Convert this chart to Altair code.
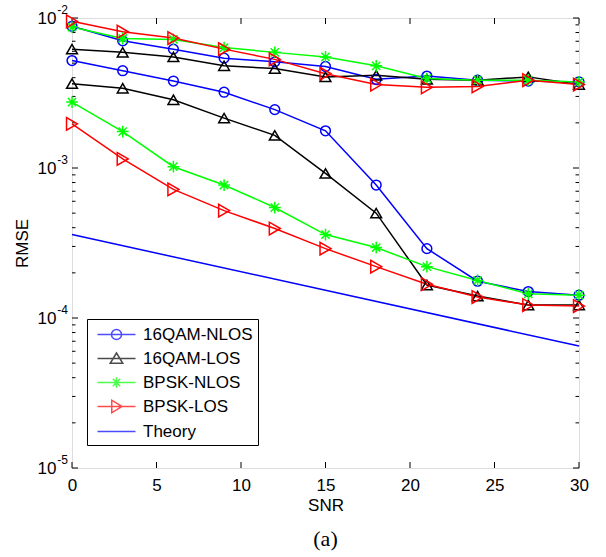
import altair as alt
import pandas as pd

# ---------------- data ----------------
snr = [0, 3, 6, 9, 12, 15, 18, 21, 24, 27, 30]
series_names = ["16QAM-NLOS", "16QAM-LOS", "BPSK-NLOS", "BPSK-LOS", "Theory"]
series_colors = ["#0000ff", "#000000", "#00ff00", "#ff0000", "#0000ff"]

qam_nlos_upper = [8.8e-3, 7.05e-3, 6.2e-3, 5.4e-3, 5.1e-3, 4.75e-3, 3.9e-3, 4.1e-3, 3.85e-3, 3.8e-3, 3.75e-3]
qam_nlos_lower = [5.2e-3, 4.45e-3, 3.8e-3, 3.2e-3, 2.45e-3, 1.77e-3, 7.7e-4, 2.9e-4, 1.76e-4, 1.5e-4, 1.42e-4]
qam_los_upper = [6.2e-3, 5.9e-3, 5.5e-3, 4.8e-3, 4.6e-3, 4.05e-3, 4.15e-3, 3.9e-3, 3.85e-3, 4.05e-3, 3.6e-3]
qam_los_lower = [3.65e-3, 3.4e-3, 2.85e-3, 2.15e-3, 1.65e-3, 9.2e-4, 5.0e-4, 1.66e-4, 1.4e-4, 1.22e-4, 1.22e-4]
bpsk_nlos_upper = [8.7e-3, 7.3e-3, 7.2e-3, 6.35e-3, 5.9e-3, 5.5e-3, 4.8e-3, 3.95e-3, 3.85e-3, 3.85e-3, 3.75e-3]
bpsk_nlos_lower = [2.75e-3, 1.75e-3, 1.02e-3, 7.7e-4, 5.45e-4, 3.6e-4, 2.95e-4, 2.2e-4, 1.78e-4, 1.45e-4, 1.42e-4]
bpsk_los_upper = [9.5e-3, 8.1e-3, 7.35e-3, 6.2e-3, 5.3e-3, 4.25e-3, 3.6e-3, 3.45e-3, 3.5e-3, 3.85e-3, 3.6e-3]
bpsk_los_lower = [1.97e-3, 1.15e-3, 7.2e-4, 5.2e-4, 3.95e-4, 2.9e-4, 2.2e-4, 1.68e-4, 1.38e-4, 1.22e-4, 1.2e-4]
theory_snr = [0, 30]
theory_rmse = [3.6e-4, 6.5e-5]

x_ticks = [0, 5, 10, 15, 20, 25, 30]
y_major = [1e-5, 1e-4, 1e-3, 1e-2]
y_exponents = ["-5", "-4", "-3", "-2"]
y_minor = [m * d for d in [1e-5, 1e-4, 1e-3] for m in range(2, 10)]

# ---------------- table ----------------
rows = []
curves = [
    ("16QAM-NLOS", "u", qam_nlos_upper), ("16QAM-NLOS", "l", qam_nlos_lower),
    ("16QAM-LOS", "u", qam_los_upper), ("16QAM-LOS", "l", qam_los_lower),
    ("BPSK-NLOS", "u", bpsk_nlos_upper), ("BPSK-NLOS", "l", bpsk_nlos_lower),
    ("BPSK-LOS", "u", bpsk_los_upper), ("BPSK-LOS", "l", bpsk_los_lower),
]
order = 0
for name, part, vals in curves:
    for s, v in zip(snr, vals):
        rows.append({"snr": s, "rmse": v, "series": name, "curve": name + part, "o": order})
    order += 1
for s, v in zip(theory_snr, theory_rmse):
    rows.append({"snr": s, "rmse": v, "series": "Theory", "curve": "Theory", "o": order})
df = pd.DataFrame(rows)
markers_df = df[df["series"] != "Theory"]

W, H = 507, 450
FONT = "Liberation Sans"

xscale = alt.Scale(domain=[0, 30], nice=False, zero=False)
yscale = alt.Scale(type="log", domain=[1e-5, 1e-2], nice=False)

xaxis = alt.Axis(values=x_ticks, ticks=False, domain=False, grid=False, title="SNR",
                 labelFont=FONT, labelFontSize=17, labelColor="black", labelPadding=9,
                 titleFont=FONT, titleFontSize=17, titleFontWeight="normal", titleColor="black",
                 titlePadding=4, labelFlush=False)
yaxis = alt.Axis(values=y_major, ticks=False, domain=False, grid=False, title="RMSE",
                 labelExpr="'10'",
                 labelFont=FONT, labelFontSize=17, labelColor="black", labelPadding=16,
                 titleFont=FONT, titleFontSize=17, titleFontWeight="normal", titleColor="black",
                 titlePadding=6, labelFlush=False)

X = alt.X("snr:Q", scale=xscale, axis=xaxis)
Y = alt.Y("rmse:Q", scale=yscale, axis=yaxis)

color_scale = alt.Scale(domain=series_names, range=series_colors)

asterisk = "M-1,0L1,0M0,-1L0,1M-0.7,-0.7L0.7,0.7M-0.7,0.7L0.7,-0.7"
point_shapes = ["circle", "triangle-up", asterisk, "triangle-right"]
point_sizes = [95, 160, 110, 160]

lines = alt.Chart(df).mark_line(strokeWidth=1.5).encode(
    x=X, y=Y,
    color=alt.Color("series:N", scale=color_scale, legend=None),
    detail="curve:N",
    order="o:Q",
)

points = alt.Chart(markers_df).mark_point(filled=False, strokeWidth=1.5, opacity=1).encode(
    x=X, y=Y,
    color=alt.Color("series:N", scale=color_scale, legend=None),
    shape=alt.Shape("series:N", scale=alt.Scale(domain=series_names[:4], range=point_shapes), legend=None),
    size=alt.Size("series:N", scale=alt.Scale(domain=series_names[:4], range=point_sizes), legend=None),
)

# legend symbols: line + marker
leg_shapes = [
    "M-2,0L2,0M0.53,0A0.53,0.53,0,1,1,-0.53,0A0.53,0.53,0,1,1,0.53,0",
    "M-2,0L2,0M0,-0.58L-0.66,0.5L0.66,0.5Z",
    "M-2,0L2,0M-0.55,0L0.55,0M0,-0.55L0,0.55M-0.39,-0.39L0.39,0.39M-0.39,0.39L0.39,-0.39",
    "M-2,0L2,0M0.58,0L-0.5,-0.66L-0.5,0.66Z",
    "M-2,0L2,0",
]
leg_props = dict(orient="none", legendX=15, legendY=301, title=None,
                 strokeColor="black", fillColor="white", padding=5, cornerRadius=0,
                 labelFont=FONT, labelFontSize=17, labelColor="black",
                 symbolSize=361, symbolStrokeWidth=1.5, rowPadding=5,
                 symbolOffset=14, labelOffset=16)
legend_layer = alt.Chart(df).mark_point(filled=False, strokeWidth=1.5).encode(
    x=X, y=Y,
    color=alt.Color("series:N", scale=alt.Scale(domain=series_names, range=series_colors),
                    legend=alt.Legend(**leg_props)),
    shape=alt.Shape("series:N", scale=alt.Scale(domain=series_names, range=leg_shapes),
                    legend=alt.Legend(**leg_props)),
).transform_filter("false")

# inward ticks (MATLAB style)
xt = pd.DataFrame({"snr": x_ticks})
ymaj = pd.DataFrame({"rmse": y_major, "exp": y_exponents})
ymin = pd.DataFrame({"rmse": y_minor})

tick_bottom = alt.Chart(xt).mark_rule(color="black", strokeWidth=1).encode(x=X, y=alt.value(H), y2=alt.value(H - 6))
tick_top = alt.Chart(xt).mark_rule(color="black", strokeWidth=1).encode(x=X, y=alt.value(0), y2=alt.value(6))
ymaj_left = alt.Chart(ymaj).mark_rule(color="black", strokeWidth=1).encode(y=Y, x=alt.value(0), x2=alt.value(6))
ymaj_right = alt.Chart(ymaj).mark_rule(color="black", strokeWidth=1).encode(y=Y, x=alt.value(W), x2=alt.value(W - 6))
ymin_left = alt.Chart(ymin).mark_rule(color="black", strokeWidth=1).encode(y=Y, x=alt.value(0), x2=alt.value(3.5))
ymin_right = alt.Chart(ymin).mark_rule(color="black", strokeWidth=1).encode(y=Y, x=alt.value(W), x2=alt.value(W - 3.5))

# superscript exponents of y tick labels
exps = alt.Chart(ymaj).mark_text(font=FONT, fontSize=12, color="black", align="right",
                                 baseline="middle", dy=-8).encode(
    y=Y, x=alt.value(-4), text="exp:N")

chart = alt.layer(
    tick_bottom, tick_top, ymaj_left, ymaj_right, ymin_left, ymin_right, exps,
    lines, points, legend_layer,
).resolve_scale(color="independent", shape="independent", size="independent").properties(
    width=W, height=H,
    autosize=alt.AutoSizeParams(type="none"),
    padding={"left": 72, "top": 18, "right": 27, "bottom": 89},
    title=alt.TitleParams("(a)", orient="bottom", font="Liberation Serif", fontSize=22,
                          fontWeight="normal", color="black", offset=16),
).configure_view(stroke="black", strokeWidth=1).configure(background="white")

chart.save("out.html", embed_options={"renderer": "svg", "actions": False})
